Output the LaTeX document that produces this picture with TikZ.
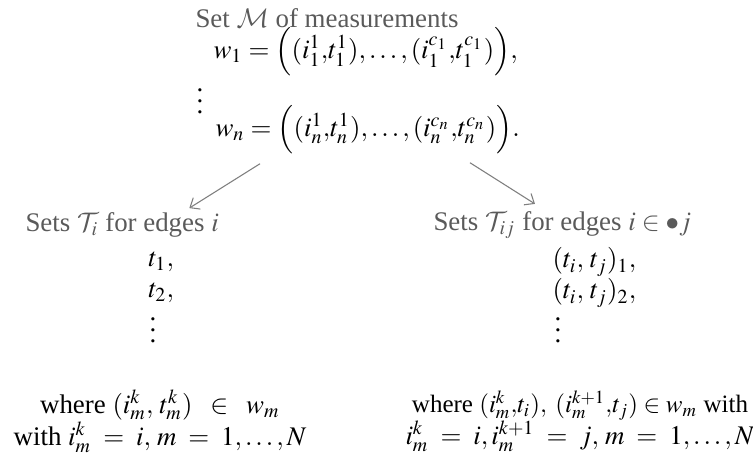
\documentclass[tikz,border=0pt]{standalone}
\usepackage{amsmath}
\usepackage{mathptmx}
\DeclareMathAlphabet{\mathcal}{OMS}{cmsy}{m}{n}
\usepackage[no-math]{fontspec}
\setmainfont{Liberation Serif}
\usepackage{xcolor}
\usetikzlibrary{arrows.meta, positioning}

\definecolor{headgray}{HTML}{5A5A5A}
\definecolor{arrgray}{HTML}{7F7F7F}

\begin{document}
\begin{tikzpicture}[
    x=0.372pt, y=-0.372pt,
    font=\normalsize,
    head/.style={anchor=west, inner sep=0pt, text=headgray},
    item/.style={anchor=west, inner sep=0pt},
    cond/.style={align=center, inner sep=0pt},
    line/.style={-{Straight Barb[length=3pt, width=5pt]}, draw=arrgray, line width=0.4pt}
]
\useasboundingbox (0,0) rectangle (753,457);

% measurements
\node[head] (setM) at (195,18) {Set $\mathcal{M}$ of measurements};
\node[item] (w1) at (213,52) {$w_1 = \Bigl( (i_1^1{,} t_1^1), \dots, (i_1^{c_1}{,} t_1^{c_1}) \Bigr),$};
\node[item] (wdots) at (196,93) {$\vdots$};
\node[item] (wn) at (215,130) {$w_n = \Bigl( (i_n^1{,} t_n^1), \dots, (i_n^{c_n}{,} t_n^{c_n}) \Bigr).$};

% single edges
\node[head] (Ti) at (25,225) {Sets $\mathcal{T}_i$ for edges $i$};
\node[item] (t1) at (148,262) {$t_1,$};
\node[item] (t2) at (148,293) {$t_2,$};
\node[item] (tdots) at (149,322) {$\vdots$};
\node[cond] (lcond) at (160,421) {where $(i_m^k,\, t_m^k) \;\;\in\;\; w_m$\\
    with $i_m^k \;=\; i,\, m \;=\; 1,\dots,N$};

% pairs of edges
\node[head] (Tij) at (433,225) {Sets $\mathcal{T}_{ij}$ for edges $i \in \bullet j$};
\node[item] (p1) at (552,262) {$(t_i,\, t_j)_1,$};
\node[item] (p2) at (552,293) {$(t_i,\, t_j)_2,$};
\node[item] (pdots) at (554,322) {$\vdots$};
\node[cond] (rcond) at (580,421) {{\fontsize{9.3}{11}\selectfont where $(i_m^k{,}t_i),\;(i_m^{k+1}{,}t_j) \in w_m$ with}\\
    $i_m^k \;=\; i, i_m^{k+1} \;=\; j,\, m \;=\; 1,\dots,N$};

\draw[line] ([shift={(45,9)}]wn.south west) -- ([shift={(-30,-4)}]Ti.north east);
\draw[line] ([shift={(255,8)}]wn.south west) -- ([shift={(102,-7)}]Tij.north west);

\end{tikzpicture}
\end{document}
